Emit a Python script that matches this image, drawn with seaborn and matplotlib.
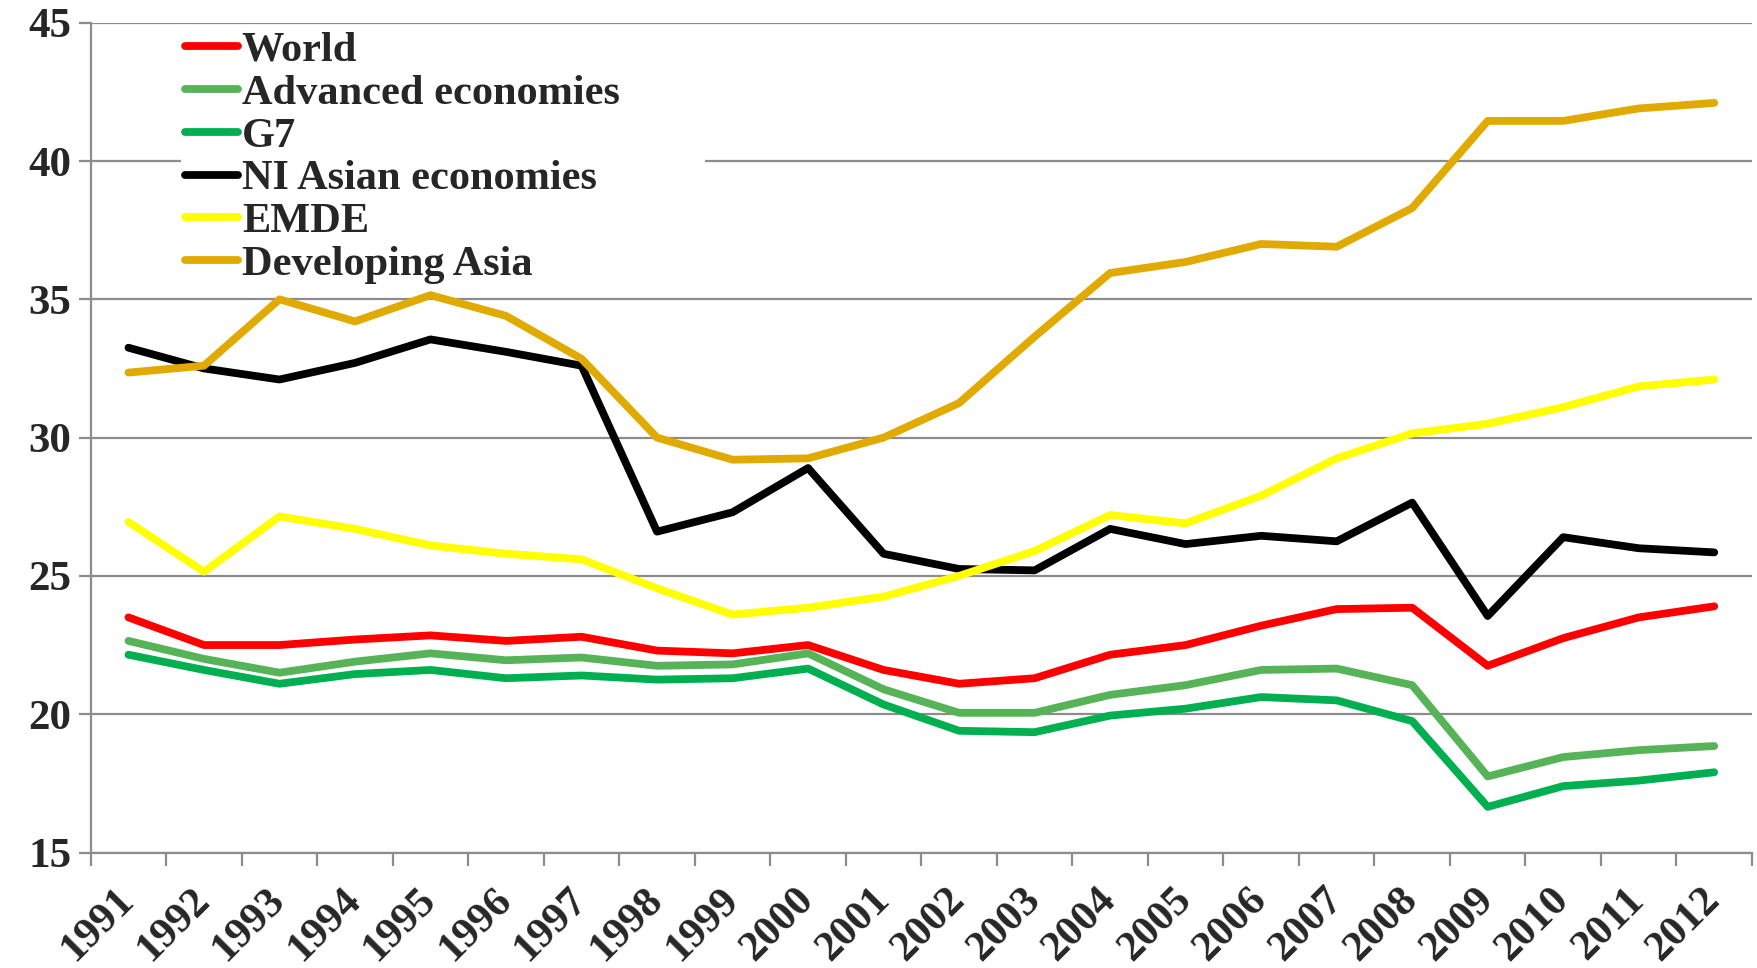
import numpy as np
import pandas as pd
import seaborn as sns
import matplotlib.pyplot as plt
from matplotlib.lines import Line2D
from matplotlib.ticker import FixedLocator

years = [str(y) for y in range(1991, 2013)]

world = [23.5, 22.5, 22.5, 22.7, 22.85, 22.65, 22.8, 22.3, 22.2, 22.5, 21.6,
         21.1, 21.3, 22.15, 22.5, 23.2, 23.8, 23.85, 21.75, 22.75, 23.5, 23.9]
advanced = [22.65, 22.0, 21.5, 21.9, 22.2, 21.95, 22.05, 21.75, 21.8, 22.2, 20.9,
            20.05, 20.05, 20.7, 21.05, 21.6, 21.65, 21.05, 17.75, 18.45, 18.7, 18.85]
g7 = [22.15, 21.6, 21.1, 21.45, 21.6, 21.3, 21.4, 21.25, 21.3, 21.65, 20.35,
      19.4, 19.35, 19.95, 20.2, 20.62, 20.5, 19.75, 16.65, 17.4, 17.6, 17.9]
ni_asia = [33.25, 32.5, 32.1, 32.7, 33.55, 33.1, 32.6, 26.6, 27.3, 28.9, 25.8,
           25.25, 25.2, 26.7, 26.15, 26.45, 26.25, 27.65, 23.55, 26.4, 26.0, 25.85]
emde = [26.95, 25.15, 27.15, 26.7, 26.1, 25.8, 25.6, 24.55, 23.6, 23.85, 24.25,
        25.0, 25.9, 27.2, 26.9, 27.9, 29.25, 30.15, 30.5, 31.1, 31.85, 32.1]
dev_asia = [32.35, 32.6, 35.0, 34.2, 35.15, 34.4, 32.85, 30.0, 29.2, 29.25, 30.0,
            31.25, 33.65, 35.95, 36.35, 37.0, 36.9, 38.3, 41.45, 41.45, 41.9, 42.1]

series = ['World', 'Advanced economies', 'G7', 'NI Asian economies', 'EMDE', 'Developing Asia']
colors = ['#FF0000', '#57B358', '#00B050', '#000000', '#FFFF00', '#E0AA00']

df = pd.DataFrame({'year': years * 6,
                   'value': world + advanced + g7 + ni_asia + emde + dev_asia,
                   'series': np.repeat(series, len(years))})
df['x'] = df.groupby('series').cumcount()

sns.set_style('white')
plt.rcParams['font.family'] = ['Liberation Serif', 'DejaVu Serif']
plt.rcParams['font.weight'] = 'bold'

fig = plt.figure(figsize=(17.58, 9.68), dpi=100)
ax = fig.add_axes([90.7 / 1758, 1 - 852.5 / 968, (1752 - 90.7) / 1758, (852.5 - 22.7) / 968])

lw = 5.6
sns.lineplot(data=df, x='x', y='value', hue='series', hue_order=series,
             palette=colors, linewidth=lw, ax=ax, legend=False,
             solid_capstyle='round', solid_joinstyle='round')

ax.set_xlim(-0.5, len(years) - 0.5)
ax.set_ylim(15, 45)
ax.set_yticks([15, 20, 25, 30, 35, 40, 45])
ax.yaxis.grid(True, color='#8C8C8C', linewidth=1.6)
ax.set_axisbelow(True)
ax.set_xlabel('')
ax.set_ylabel('')

for s in ['top', 'right']:
    ax.spines[s].set_visible(False)
for s in ['left', 'bottom']:
    ax.spines[s].set_color('#8C8C8C')
    ax.spines[s].set_linewidth(1.6)

ax.set_xticks(range(len(years)))
ax.set_xticklabels(years, rotation=45, ha='right', va='center',
                   rotation_mode='anchor', fontsize=31, fontweight='bold')
ax.xaxis.set_minor_locator(FixedLocator(np.arange(-0.5, len(years), 1.0)))
ax.tick_params(axis='x', which='major', length=0, pad=30)
ax.tick_params(axis='x', which='minor', length=9, width=1.6, color='#8C8C8C', direction='out', bottom=True)
ax.tick_params(axis='y', which='major', length=9, width=1.6, color='#8C8C8C',
               direction='out', left=True, pad=5, labelsize=31)
for t in ax.get_yticklabels():
    t.set_fontweight('bold')

handles = [Line2D([], [], color=c, linewidth=lw, solid_capstyle='round') for c in colors]
leg = ax.legend(handles, series, loc='upper left', bbox_to_anchor=(0.0545, 0.995, 0.3155, 0),
                mode='expand', borderaxespad=0, borderpad=0.1, frameon=True, fancybox=False,
                facecolor='white', edgecolor='none', framealpha=1,
                handlelength=1.25, handletextpad=0.08, labelspacing=0.1,
                prop={'weight': 'bold', 'size': 30.5})
leg.set_zorder(5)

fig.savefig('out.png', dpi=100)
